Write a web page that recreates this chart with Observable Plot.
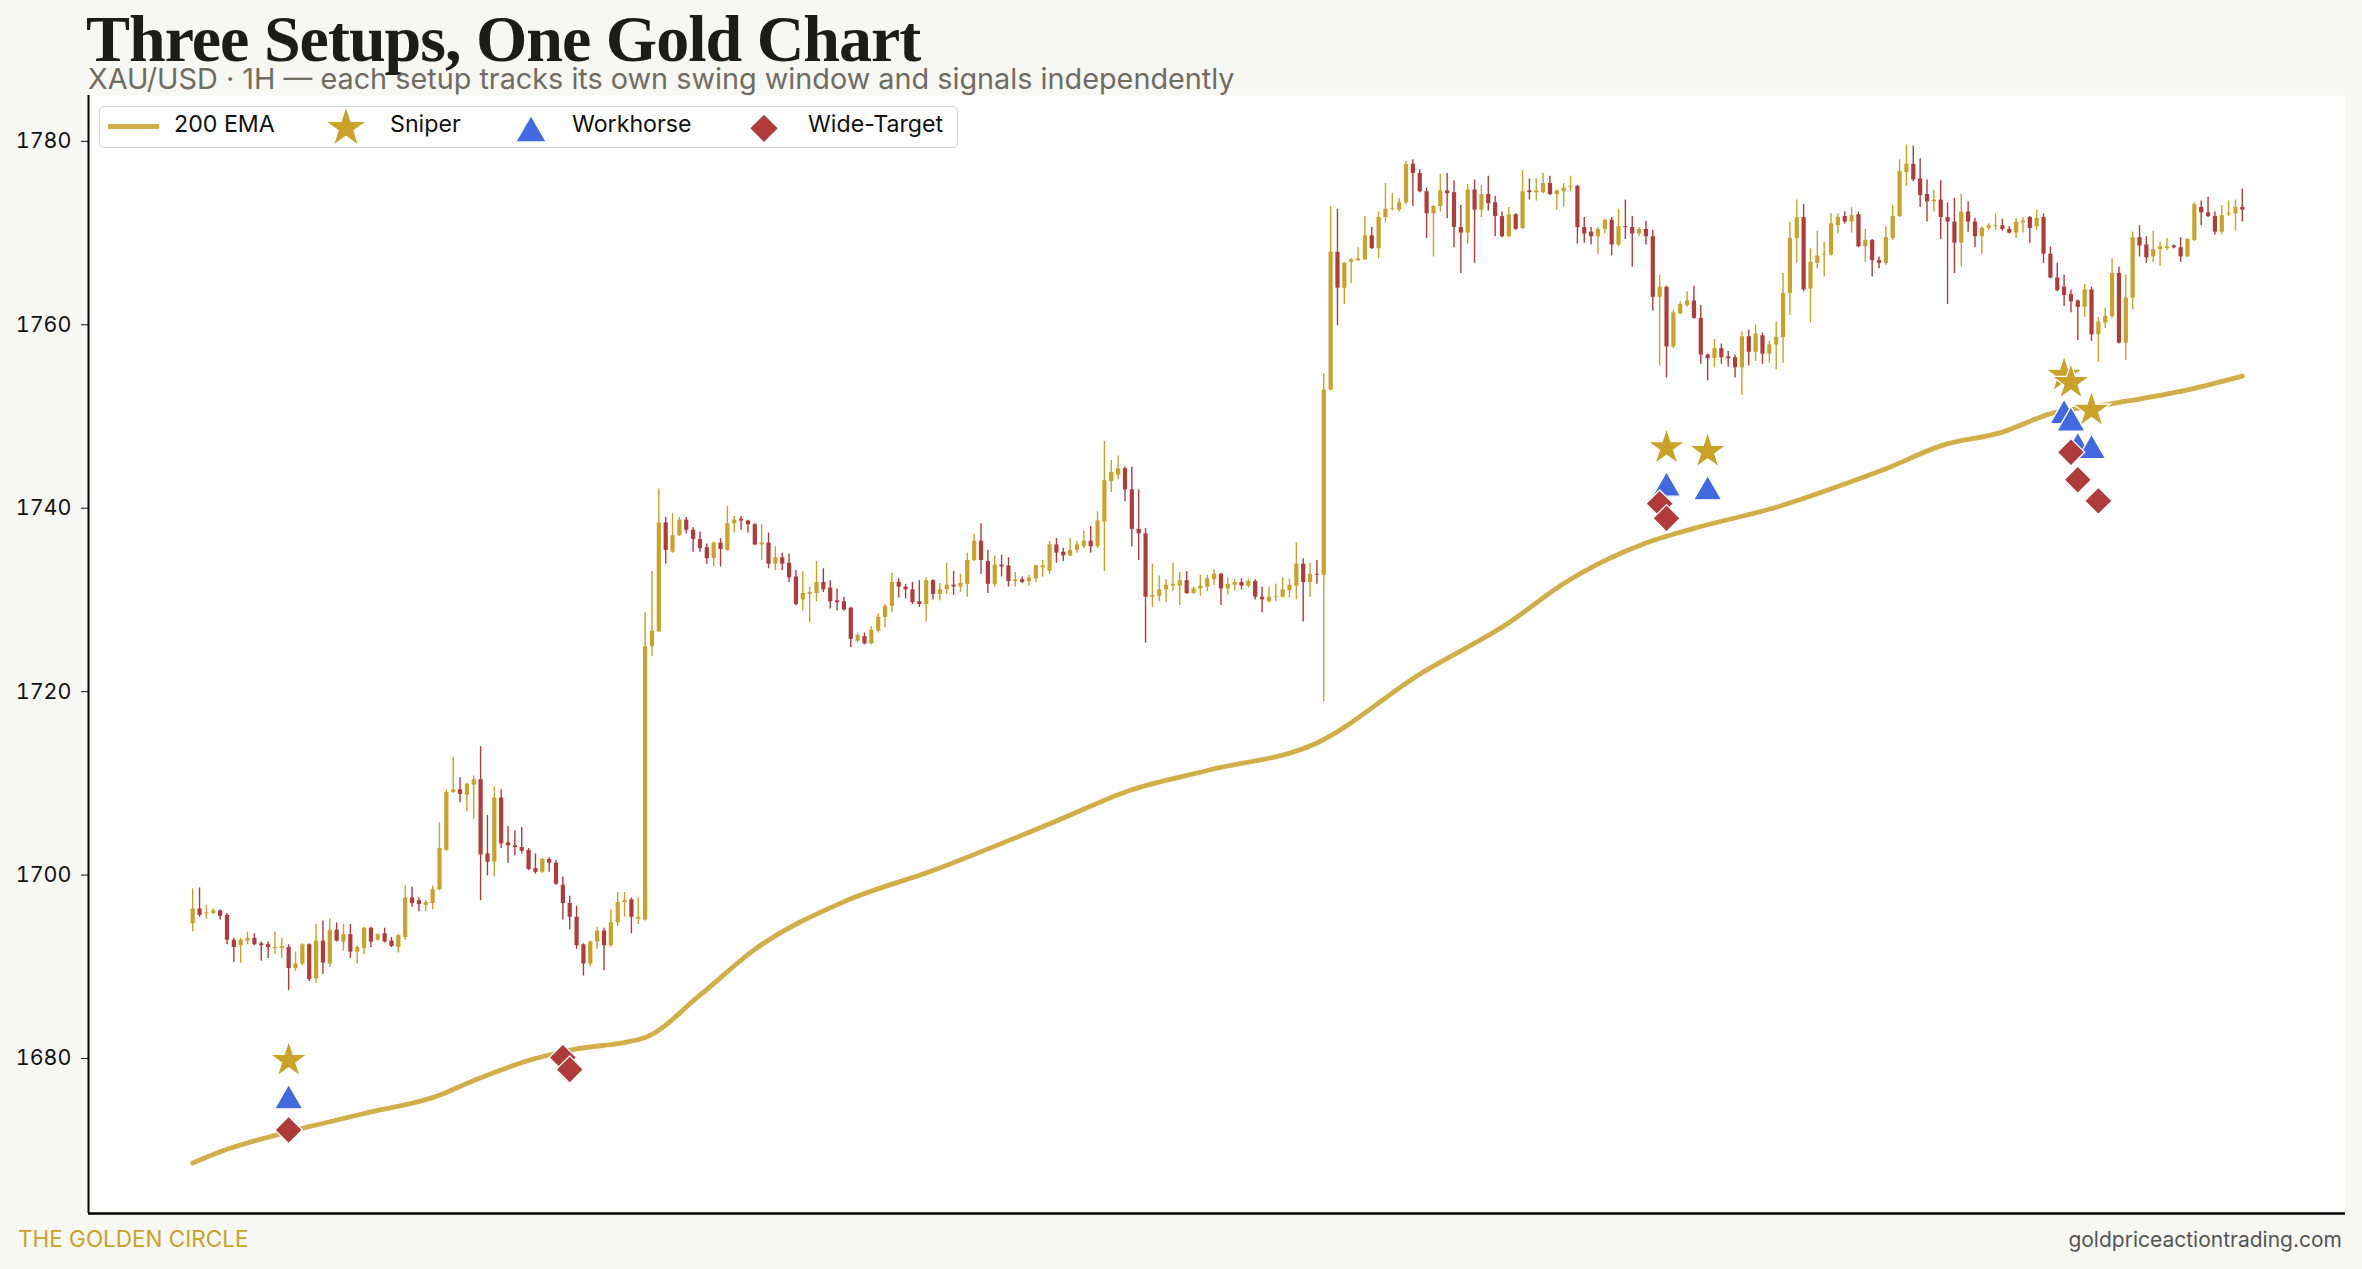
<!DOCTYPE html>
<html>
<head>
<meta charset="utf-8">
<script src="https://cdn.jsdelivr.net/npm/d3@7"></script>
<script src="https://cdn.jsdelivr.net/npm/@observablehq/plot@0.6"></script>
<style>
  html, body { margin: 0; padding: 0; background: #f7f7f4; }
  #page { position: relative; width: 2362px; height: 1269px; overflow: hidden; background: #f7f7f4; font-family: Inter, "DejaVu Sans", sans-serif; }
  #title { position: absolute; left: 86px; top: 6px; font-family: "Liberation Serif", serif; font-weight: 700; font-size: 66px; line-height: 66px; color: #1c1c19; white-space: nowrap; letter-spacing: -1px; }
  #subtitle { position: absolute; left: 88px; top: 65px; font-size: 28.8px; line-height: 28.8px; color: #6f6c62; white-space: nowrap; }
  #chart { position: absolute; left: 0; top: 85px; }
  #legend { position: absolute; left: 99px; top: 106px; width: 859px; height: 42px; box-sizing: border-box; border: 1.5px solid #d2d2d2; border-radius: 5px; background: #fff; }
  #legendIcons { position: absolute; left: 0; top: 0; }
  .lg { position: absolute; top: 113px; font-size: 23.2px; line-height: 23.2px; color: #111; white-space: nowrap; }
  #footL { position: absolute; left: 18px; top: 1228px; font-size: 22.5px; line-height: 22.5px; color: #c9a227; white-space: nowrap; }
  #footR { position: absolute; right: 20px; top: 1229px; font-size: 21px; line-height: 21px; color: #555; white-space: nowrap; }
</style>
</head>
<body>
<div id="page">
  <div id="title">Three Setups, One Gold Chart</div>
  <div id="subtitle">XAU/USD · 1H — each setup tracks its own swing window and signals independently</div>
  <div id="chart"></div>
  <div id="legend"></div>
  <svg id="legendIcons" width="1000" height="200"></svg>
  <div class="lg" style="left:174px"></div>
  <div class="lg" style="left:390px"></div>
  <div class="lg" style="left:572px"></div>
  <div class="lg" style="left:808px"></div>
  <div id="footL">THE GOLDEN CIRCLE</div>
  <div id="footR">goldpriceactiontrading.com</div>
</div>
<script>
// ---------- DATA ----------
const open = [
1694.7,1696.3,1695.8,1695.8,1696.1,1695.6,1692.9,1692.3,1692.8,1693.1,
1692.5,1692.4,1692.0,1692.0,1692.1,1689.8,1690.3,1692.4,1688.7,1692.8,
1690.3,1694.0,1692.7,1693.5,1691.6,1692.0,1694.2,1692.9,1693.6,1692.8,
1692.1,1693.2,1697.5,1697.2,1696.7,1696.9,1698.4,1702.7,1709.0,1709.3,
1708.7,1709.8,1710.4,1702.3,1701.4,1708.4,1703.5,1703.2,1703.0,1702.7,
1700.7,1700.3,1701.7,1701.3,1698.9,1696.9,1695.4,1692.4,1690.3,1692.7,
1693.9,1692.3,1694.8,1697.0,1697.3,1695.2,1695.1,1724.9,1726.5,1738.4,
1735.2,1737.0,1738.7,1737.6,1736.6,1735.7,1734.5,1736.2,1735.4,1738.3,
1738.8,1738.6,1738.2,1736.0,1736.2,1733.9,1734.6,1734.0,1732.5,1730.0,
1730.6,1730.7,1731.9,1731.3,1729.9,1729.8,1729.1,1725.5,1726.0,1725.2,
1726.6,1728.1,1729.3,1731.9,1731.4,1731.1,1729.8,1729.5,1732.1,1730.6,
1731.1,1731.6,1731.4,1731.7,1734.3,1736.4,1734.2,1731.7,1733.8,1733.7,
1732.0,1732.2,1732.0,1732.3,1733.5,1733.1,1736.0,1735.2,1734.8,1735.4,
1735.8,1736.4,1735.8,1738.5,1742.9,1743.6,1744.3,1742.0,1737.7,1737.2,
1730.3,1730.4,1731.1,1731.5,1731.5,1732.1,1730.7,1731.2,1731.4,1732.2,
1732.8,1731.2,1731.6,1731.9,1731.5,1732.0,1730.3,1729.8,1730.3,1730.3,
1731.0,1731.5,1733.9,1731.9,1732.8,1732.7,1752.9,1767.9,1764.0,1766.8,
1767.0,1767.1,1769.7,1768.3,1771.7,1772.6,1772.5,1773.3,1777.5,1776.5,
1774.5,1772.1,1772.9,1774.6,1774.4,1770.6,1770.0,1774.7,1772.5,1774.2,
1773.3,1771.8,1769.6,1772.0,1770.5,1774.6,1774.4,1774.4,1775.4,1774.2,
1774.5,1775.0,1775.1,1770.6,1770.1,1769.6,1770.4,1771.4,1768.7,1770.7,
1770.6,1769.9,1770.4,1769.6,1763.0,1764.1,1757.6,1761.2,1762.1,1762.6,
1760.7,1756.7,1756.3,1757.4,1756.5,1756.4,1755.3,1758.7,1757.0,1758.8,
1756.8,1757.8,1758.6,1763.4,1769.4,1771.7,1763.9,1766.7,1767.6,1767.6,
1770.8,1771.8,1771.2,1772.0,1768.5,1769.2,1767.0,1766.7,1769.4,1771.8,
1776.6,1777.5,1775.9,1774.2,1773.4,1773.6,1771.7,1771.2,1768.9,1772.3,
1771.2,1769.6,1770.5,1770.7,1770.8,1770.4,1770.0,1771.1,1771.7,1770.7,
1771.7,1767.7,1765.1,1764.1,1763.3,1762.6,1761.9,1763.8,1758.9,1760.2,
1760.9,1765.6,1758.0,1762.9,1769.5,1768.7,1767.4,1768.2,1768.3,1768.6,
1768.4,1767.4,1769.2,1772.8,1772.2,1771.8,1770.1,1772.0,1772.1,1772.8
];
const high = [
1698.5,1698.6,1696.7,1696.3,1696.2,1695.8,1693.1,1693.1,1693.8,1693.6,
1692.7,1692.7,1693.8,1693.1,1692.4,1691.6,1692.5,1692.5,1694.6,1695.0,
1695.2,1694.8,1694.6,1694.6,1692.3,1694.3,1694.3,1693.6,1694.2,1693.2,
1693.5,1698.8,1698.7,1697.5,1697.2,1698.8,1705.7,1709.3,1712.8,1710.6,
1710.0,1710.8,1714.0,1706.5,1709.6,1709.3,1705.3,1704.8,1705.2,1702.9,
1702.3,1701.8,1701.9,1701.6,1699.8,1697.7,1696.6,1692.5,1692.8,1694.3,
1694.2,1696.2,1698.1,1698.1,1697.5,1697.5,1728.6,1733.1,1742.1,1739.0,
1739.4,1739.0,1739.0,1737.9,1737.4,1736.1,1736.3,1736.7,1740.2,1739.1,
1739.1,1738.7,1738.3,1738.2,1737.3,1735.8,1735.1,1735.0,1733.2,1733.1,
1731.4,1734.2,1733.4,1732.1,1731.2,1730.3,1729.2,1726.4,1726.4,1727.1,
1728.5,1729.5,1732.9,1732.3,1731.7,1731.9,1732.1,1732.4,1732.2,1731.8,
1734.0,1733.1,1732.8,1735.1,1737.2,1738.3,1735.4,1734.8,1734.9,1734.6,
1733.0,1732.5,1732.7,1733.8,1734.3,1736.4,1736.7,1735.6,1736.7,1736.4,
1737.5,1738.0,1739.6,1747.3,1745.2,1745.7,1744.5,1744.5,1742.0,1737.8,
1733.9,1732.6,1732.2,1734.0,1733.0,1733.1,1731.4,1732.7,1732.7,1733.3,
1732.9,1732.4,1732.2,1732.3,1732.3,1732.2,1731.4,1731.4,1731.7,1732.4,
1732.3,1736.2,1734.5,1734.0,1734.3,1754.7,1772.9,1772.6,1766.8,1767.2,
1768.4,1771.8,1770.6,1772.3,1775.4,1774.3,1773.8,1777.8,1778.0,1776.9,
1774.9,1773.0,1776.4,1776.5,1775.7,1773.0,1775.3,1775.8,1775.2,1776.2,
1774.0,1772.3,1772.8,1772.1,1776.8,1775.9,1775.9,1776.5,1776.2,1774.7,
1775.4,1776.2,1775.2,1771.7,1770.6,1770.6,1771.5,1771.7,1772.6,1773.6,
1771.8,1770.6,1771.3,1770.3,1765.4,1764.2,1761.6,1762.5,1763.6,1764.2,
1762.1,1756.8,1758.4,1757.9,1757.1,1756.7,1759.2,1759.4,1760.0,1759.1,
1758.2,1760.3,1765.6,1771.2,1773.6,1773.1,1768.3,1770.2,1769.0,1772.1,
1772.1,1772.3,1772.8,1772.3,1770.4,1769.3,1767.4,1770.7,1773.0,1778.0,
1779.6,1779.5,1778.1,1775.8,1774.7,1775.7,1773.3,1773.8,1774.2,1773.4,
1771.6,1770.7,1771.0,1772.1,1771.5,1770.7,1771.6,1771.7,1771.8,1772.5,
1772.1,1768.5,1766.7,1765.4,1763.8,1762.7,1764.4,1764.1,1760.8,1761.8,
1767.2,1766.3,1765.4,1770.1,1770.8,1769.6,1770.2,1769.0,1769.4,1768.7,
1769.5,1769.4,1773.3,1773.5,1773.9,1772.3,1773.0,1773.5,1773.6,1774.8
];
const low = [
1693.8,1695.4,1695.2,1695.7,1695.1,1692.4,1690.5,1690.4,1692.4,1692.3,
1690.6,1690.9,1691.3,1690.9,1687.4,1689.5,1690.1,1688.4,1688.2,1689.2,
1689.9,1692.7,1691.7,1690.9,1690.3,1691.3,1692.1,1692.8,1692.6,1692.1,
1691.5,1692.9,1696.5,1696.0,1696.0,1696.2,1698.3,1702.6,1708.9,1707.9,
1706.9,1706.1,1697.2,1699.9,1699.8,1702.9,1701.3,1702.1,1702.3,1700.5,
1700.1,1700.2,1700.3,1698.9,1695.1,1694.0,1691.9,1689.0,1690.0,1691.9,
1689.6,1692.1,1694.4,1695.4,1693.6,1694.6,1695.0,1723.8,1726.5,1733.9,
1735.1,1736.9,1737.2,1735.2,1735.2,1733.9,1733.6,1733.6,1735.3,1737.3,
1737.6,1737.3,1735.9,1734.3,1733.4,1733.2,1733.2,1731.9,1729.4,1728.8,
1727.5,1729.8,1730.8,1729.0,1728.8,1728.8,1724.8,1725.3,1725.1,1725.1,
1726.4,1727.0,1728.6,1730.2,1730.1,1729.5,1729.2,1727.6,1730.0,1729.9,
1730.6,1730.5,1730.8,1730.3,1734.2,1732.8,1730.7,1731.4,1732.5,1731.4,
1731.4,1731.8,1731.5,1731.9,1732.5,1732.8,1734.0,1734.2,1734.7,1735.1,
1735.6,1735.1,1735.6,1733.1,1741.7,1743.1,1740.7,1735.8,1734.3,1725.3,
1729.2,1729.8,1729.7,1730.9,1729.4,1730.6,1730.6,1730.4,1730.9,1731.6,
1729.4,1730.5,1731.0,1731.1,1731.3,1730.0,1728.6,1729.7,1729.8,1730.2,
1730.2,1730.0,1727.6,1730.3,1731.7,1718.9,1752.8,1759.9,1762.2,1764.5,
1766.9,1767.0,1768.2,1767.2,1771.1,1772.4,1772.3,1773.1,1772.9,1774.4,
1769.4,1767.4,1772.3,1771.6,1768.4,1765.6,1768.8,1766.7,1771.7,1772.4,
1769.6,1769.5,1769.5,1770.3,1770.4,1773.6,1773.5,1774.3,1774.1,1772.5,
1772.8,1774.5,1768.8,1768.9,1768.7,1767.7,1769.9,1767.5,1768.5,1769.3,
1766.3,1769.6,1768.7,1761.5,1755.5,1754.2,1757.4,1761.1,1761.9,1760.6,
1755.7,1753.9,1755.3,1755.7,1755.4,1754.2,1752.3,1755.5,1756.0,1755.7,
1755.8,1755.1,1755.8,1761.0,1766.7,1763.6,1760.2,1766.1,1765.2,1767.5,
1769.9,1771.0,1770.0,1768.4,1766.8,1765.2,1766.1,1766.5,1769.2,1771.7,
1775.1,1775.6,1772.8,1771.2,1772.3,1769.3,1762.2,1765.6,1766.3,1770.1,
1768.4,1767.7,1770.3,1770.3,1770.2,1769.9,1769.4,1770.0,1768.9,1770.3,
1766.7,1765.0,1763.6,1762.0,1761.3,1758.3,1760.8,1758.2,1755.9,1759.6,
1760.7,1757.9,1756.1,1761.6,1767.4,1766.7,1766.8,1766.4,1768.1,1768.3,
1766.8,1767.3,1769.1,1770.8,1771.7,1769.8,1769.8,1771.8,1770.2,1771.2
];
const close = [
1696.3,1695.6,1695.9,1696.1,1695.5,1692.9,1692.1,1692.9,1693.1,1692.4,
1692.3,1692.1,1692.1,1692.2,1689.8,1690.3,1692.4,1688.6,1692.8,1690.4,
1694.0,1692.8,1693.5,1691.6,1692.1,1694.2,1692.7,1693.5,1692.7,1692.2,
1693.4,1697.5,1696.9,1696.8,1697.0,1698.4,1702.9,1709.0,1709.3,1708.8,
1709.9,1710.4,1702.2,1701.4,1708.4,1703.4,1703.2,1703.0,1702.6,1700.6,
1700.3,1701.7,1701.3,1699.0,1696.9,1695.4,1692.3,1690.3,1692.7,1693.9,
1692.3,1694.8,1697.0,1697.2,1695.4,1695.4,1724.9,1726.6,1738.4,1735.4,
1737.0,1738.7,1737.6,1736.6,1735.6,1734.5,1736.2,1735.5,1738.3,1738.7,
1738.6,1738.2,1736.0,1736.2,1733.9,1734.6,1733.9,1732.4,1729.5,1730.7,
1730.8,1731.9,1731.1,1729.8,1729.7,1728.9,1725.7,1726.1,1725.2,1726.7,
1728.1,1729.3,1731.9,1731.4,1731.1,1729.7,1729.5,1732.1,1730.6,1731.1,
1731.6,1731.4,1731.8,1734.3,1736.4,1734.3,1731.7,1733.8,1733.6,1732.0,
1732.2,1731.9,1732.4,1733.7,1733.7,1736.0,1735.1,1734.8,1735.4,1736.0,
1736.4,1735.8,1738.6,1743.0,1743.9,1744.3,1742.0,1737.7,1737.2,1730.3,
1730.5,1731.1,1731.6,1731.7,1732.1,1730.7,1731.2,1731.5,1732.3,1732.8,
1731.2,1731.7,1731.9,1731.5,1732.0,1730.3,1730.0,1730.3,1730.4,1731.1,
1731.6,1733.9,1731.9,1732.8,1732.7,1752.9,1767.9,1764.0,1766.7,1767.1,
1767.2,1769.7,1768.3,1771.7,1772.6,1772.7,1773.3,1777.5,1776.5,1774.5,
1772.1,1772.9,1774.6,1774.3,1770.6,1770.0,1774.7,1772.5,1774.2,1773.2,
1771.8,1769.6,1772.0,1770.4,1774.5,1774.4,1774.6,1775.4,1774.2,1774.6,
1774.9,1775.1,1770.6,1769.9,1769.6,1770.4,1771.4,1768.7,1770.7,1770.6,
1769.9,1770.4,1769.6,1763.0,1764.1,1757.6,1761.3,1762.2,1762.6,1760.7,
1756.7,1756.3,1757.4,1756.4,1756.3,1755.3,1758.7,1757.0,1759.0,1756.8,
1757.8,1758.6,1763.4,1769.4,1771.7,1763.8,1766.8,1767.5,1767.7,1771.0,
1771.7,1771.2,1771.9,1768.5,1769.2,1767.0,1766.7,1769.5,1771.8,1776.7,
1777.5,1775.8,1774.1,1773.4,1773.6,1771.7,1771.2,1768.9,1772.3,1771.2,
1769.6,1770.5,1770.8,1770.8,1770.4,1770.0,1771.2,1771.3,1770.5,1771.6,
1767.7,1765.1,1763.7,1763.2,1762.5,1761.9,1763.8,1758.9,1760.3,1760.9,
1765.6,1758.0,1762.9,1769.5,1768.6,1767.3,1768.2,1768.5,1768.5,1768.4,
1767.4,1769.3,1773.1,1772.2,1771.8,1770.1,1771.9,1772.1,1772.8,1772.5
];
// 200 EMA, read at a set of candle indices
const emaIdx = [0, 5, 14, 25, 36, 41, 50, 55, 66, 74, 82, 95, 108, 126, 137, 148, 164, 179, 192, 200, 212, 219, 231, 242, 247, 255, 264, 271, 280, 291, 299];
const emaVal = [1668.6, 1670.1, 1672.0, 1674.0, 1676.0, 1677.6, 1680.0, 1680.9, 1682.3, 1686.9, 1691.9, 1697.1, 1700.5, 1705.9, 1709.3, 1711.4, 1714.4, 1721.9, 1727.5, 1731.8, 1736.2, 1737.8, 1740.1, 1742.9, 1744.3, 1746.8, 1748.3, 1750.3, 1751.4, 1752.9, 1754.4];
// Signals
const sniperIdx = [14, 215, 221, 273, 274, 277];
const sniperVal = [1679.8, 1746.6, 1746.2, 1754.5, 1753.7, 1750.7];
const workhorseIdx = [14, 215, 221, 273, 274, 275, 277];
const workhorseVal = [1675.4, 1742.2, 1741.8, 1750.1, 1749.3, 1746.5, 1746.3];
const wideIdx = [14, 54, 55, 214, 215, 274, 275, 278];
const wideVal = [1672.2, 1680.1, 1678.8, 1740.5, 1738.9, 1746.1, 1743.1, 1740.8];
const yTicks = [1680, 1700, 1720, 1740, 1760, 1780];
const legendLabels = ["200 EMA", "Sniper", "Workhorse", "Wide-Target"];

// ---------- STYLE ----------
const GOLD = "#c9a227", RED = "#b03b3b", BLUE = "#4169e1", EMA = "#d2ae48";

const candles = open.map((o, i) => ({i, o, h: high[i], l: low[i], c: close[i]}));
const up = candles.filter(d => d.c >= d.o);
const down = candles.filter(d => d.c < d.o);
const ema = emaIdx.map((i, k) => ({i, v: emaVal[k]}));
const sniper = sniperIdx.map((i, k) => ({i, v: sniperVal[k]}));
const workhorse = workhorseIdx.map((i, k) => ({i, v: workhorseVal[k]}));
const wide = wideIdx.map((i, k) => ({i, v: wideVal[k]}));

const X0 = -15.2, X1 = 314.05, Y0 = 1663.1, Y1 = 1785.0;
const STAR_R = 11.8, TRI_R = 10.5, DIA_R = 12.3;

const chart = Plot.plot({
  width: 2362,
  height: 1138,
  marginLeft: 88,
  marginRight: 17,
  marginTop: 10,
  marginBottom: 10,
  style: {background: "transparent", fontFamily: "Inter, sans-serif", fontSize: "21.5px", color: "#111"},
  x: {domain: [X0, X1], axis: null},
  y: {domain: [Y0, Y1], ticks: yTicks, tickFormat: "d", tickSize: 7, tickPadding: 10, label: null},
  marks: [
    Plot.frame({fill: "white", stroke: "none"}),
    Plot.ruleX(up, {x: "i", y1: "l", y2: "h", stroke: GOLD, strokeWidth: 1.4}),
    Plot.ruleX(down, {x: "i", y1: "l", y2: "h", stroke: RED, strokeWidth: 1.4}),
    Plot.ruleX(up, {x: "i", y1: "o", y2: "c", stroke: GOLD, strokeWidth: 4.2}),
    Plot.ruleX(down, {x: "i", y1: "o", y2: "c", stroke: RED, strokeWidth: 4.2}),
    Plot.line(ema, {x: "i", y: "v", stroke: EMA, strokeWidth: 4.8, curve: "monotone-x"}),
    Plot.dot(sniper, {x: "i", y: "v", symbol: "star", r: STAR_R, fill: GOLD, stroke: "white", strokeWidth: 1.3}),
    Plot.dot(workhorse, {x: "i", y: "v", symbol: "triangle", r: TRI_R, fill: BLUE, stroke: "white", strokeWidth: 1.3}),
    Plot.dot(wide, {x: "i", y: "v", symbol: "diamond2", r: DIA_R, fill: RED, stroke: "white", strokeWidth: 1.3}),
    Plot.ruleX([X0], {stroke: "#000", strokeWidth: 2}),
    Plot.ruleY([Y0], {stroke: "#000", strokeWidth: 2.5})
  ]
});
document.getElementById("chart").appendChild(chart);

// ---------- LEGEND ICONS ----------
const lg = d3.select("#legendIcons");
lg.append("line").attr("x1", 108).attr("x2", 159).attr("y1", 126.5).attr("y2", 126.5)
  .attr("stroke", EMA).attr("stroke-width", 5);
const sym = (type, r) => d3.symbol(type, Math.PI * r * r)();
lg.append("path").attr("d", sym(d3.symbolStar, STAR_R)).attr("transform", "translate(346,128)").attr("fill", GOLD);
lg.append("path").attr("d", sym(d3.symbolTriangle, TRI_R)).attr("transform", "translate(531,133)").attr("fill", BLUE);
lg.append("path").attr("d", sym(d3.symbolDiamond2, DIA_R)).attr("transform", "translate(764,128.3)").attr("fill", RED);
document.querySelectorAll(".lg").forEach((el, k) => el.textContent = legendLabels[k]);
</script>
</body>
</html>
